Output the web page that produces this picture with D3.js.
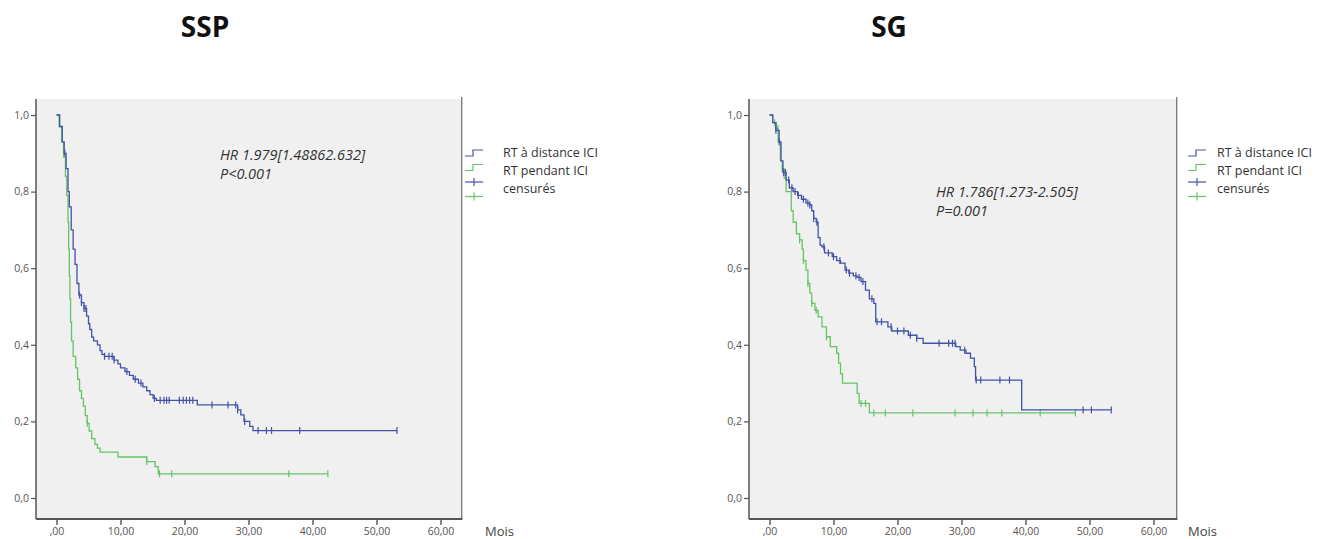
<!DOCTYPE html>
<html>
<head>
<meta charset="utf-8">
<script src="https://cdn.jsdelivr.net/npm/d3@7"></script>
<style>
  html, body { margin: 0; padding: 0; background: #fff; }
  svg { display: block; }
  text { font-family: "Open Sans", "DejaVu Sans", sans-serif; }
</style>
</head>
<body>
<svg id="chart" width="1327" height="539"></svg>
<script>
// ---------------- DATA ----------------
const panelTitles = ["SSP", "SG"];
const seriesNames = ["RT à distance ICI", "RT pendant ICI"];
const censoredLabel = "censurés";
const xAxisLabel = "Mois";
const xTickValues = [0, 10, 20, 30, 40, 50, 60];
const xTickLabels = [",00", "10,00", "20,00", "30,00", "40,00", "50,00", "60,00"];
const yTickValues = [0, 0.2, 0.4, 0.6, 0.8, 1.0];
const yTickLabels = ["0,0", "0,2", "0,4", "0,6", "0,8", "1,0"];
const annotSSP = ["HR 1.979[1.48862.632]", "P<0.001"];
const annotSG = ["HR 1.786[1.273-2.505]", "P=0.001"];

// SSP – RT à distance ICI (blue)
const sspBlueTime = [0, 0.5, 0.9, 1.2, 1.5, 1.8, 2.0, 2.3, 2.6, 2.9, 3.2, 3.5, 3.9, 4.3, 4.7, 5.0, 5.2, 5.5, 5.8, 6.4, 6.8, 7.1, 7.5, 9.0, 9.6, 10.0, 10.7, 11.4, 12.0, 12.8, 13.5, 14.1, 14.6, 15.1, 15.6, 22.0, 28.3, 28.8, 29.3, 30.2, 30.7];
const sspBlueSurv = [1.0, 0.97, 0.93, 0.90, 0.86, 0.80, 0.76, 0.70, 0.65, 0.61, 0.56, 0.53, 0.51, 0.495, 0.475, 0.455, 0.44, 0.42, 0.41, 0.40, 0.385, 0.375, 0.37, 0.36, 0.35, 0.34, 0.33, 0.32, 0.31, 0.30, 0.29, 0.28, 0.27, 0.26, 0.255, 0.243, 0.23, 0.217, 0.20, 0.187, 0.176];
const sspBlueCens = [1.3, 3.6, 3.9, 4.3, 4.6, 7.5, 8.2, 8.7, 9.0, 11.0, 12.3, 13.2, 15.3, 16.2, 16.8, 17.2, 17.6, 19.2, 19.8, 20.3, 20.8, 21.3, 24.3, 26.8, 28.0, 28.3, 29.4, 31.5, 32.8, 33.6, 38.0, 53.2];

// SSP – RT pendant ICI (green)
const sspGreenTime = [0, 0.4, 0.8, 1.1, 1.4, 1.6, 1.8, 1.9, 2.0, 2.1, 2.2, 2.35, 2.6, 3.0, 3.3, 3.6, 3.9, 4.2, 4.5, 4.8, 5.1, 5.5, 6.0, 6.4, 6.8, 9.6, 14.1, 15.4, 15.9];
const sspGreenSurv = [1.0, 0.97, 0.93, 0.89, 0.84, 0.79, 0.72, 0.65, 0.58, 0.52, 0.46, 0.41, 0.37, 0.34, 0.31, 0.28, 0.26, 0.24, 0.215, 0.195, 0.175, 0.155, 0.14, 0.13, 0.12, 0.107, 0.095, 0.082, 0.063];
const sspGreenCens = [4.8, 14.1, 16.1, 18.0, 36.3, 42.4];

// SG – RT à distance ICI (blue)
const sgBlueTime = [0, 0.5, 1.0, 1.5, 1.8, 2.1, 2.6, 3.1, 3.7, 4.4, 5.0, 5.7, 6.3, 6.6, 6.9, 7.3, 7.6, 7.9, 8.2, 8.6, 9.8, 10.5, 11.1, 11.8, 12.4, 13.1, 13.7, 14.3, 15.0, 15.6, 16.3, 16.6, 18.5, 19.1, 21.7, 23.0, 24.0, 29.1, 29.8, 30.7, 31.4, 32.0, 32.2, 39.4];
const sgBlueSurv = [1.0, 0.98, 0.96, 0.93, 0.88, 0.85, 0.83, 0.81, 0.80, 0.79, 0.78, 0.77, 0.765, 0.75, 0.73, 0.72, 0.68, 0.66, 0.656, 0.64, 0.63, 0.62, 0.613, 0.595, 0.587, 0.58, 0.576, 0.565, 0.543, 0.52, 0.508, 0.46, 0.447, 0.436, 0.425, 0.417, 0.404, 0.395, 0.386, 0.378, 0.365, 0.343, 0.308, 0.23];
const sgBlueCens = [1.0, 1.5, 2.2, 2.5, 3.0, 3.5, 4.0, 4.5, 5.3, 6.0, 6.3, 6.9, 7.4, 8.5, 9.2, 10.0, 11.0, 12.0, 12.5, 13.5, 14.0, 14.6, 16.0, 16.8, 17.5, 19.0, 20.0, 21.0, 22.0, 23.0, 26.5, 28.0, 28.6, 29.0, 30.5, 32.3, 33.0, 36.0, 37.5, 49.0, 50.3, 53.4];

// SG – RT pendant ICI (green)
const sgGreenTime = [0, 0.5, 1.0, 1.35, 1.7, 2.0, 2.3, 2.6, 3.4, 3.7, 4.2, 4.7, 5.1, 5.3, 5.7, 6.0, 6.3, 6.6, 7.1, 7.6, 8.2, 8.9, 9.5, 10.5, 10.8, 11.1, 11.4, 13.7, 14.0, 15.6];
const sgGreenSurv = [1.0, 0.98, 0.965, 0.93, 0.88, 0.86, 0.835, 0.80, 0.75, 0.72, 0.69, 0.674, 0.65, 0.62, 0.595, 0.56, 0.535, 0.508, 0.49, 0.473, 0.447, 0.421, 0.395, 0.378, 0.352, 0.325, 0.30, 0.273, 0.247, 0.222];
const sgGreenCens = [0.8, 1.3, 2.0, 4.7, 5.3, 6.0, 6.6, 7.3, 8.9, 14.3, 15.0, 16.3, 18.1, 22.4, 29.0, 31.8, 34.0, 36.3, 42.3, 47.8];

// ---------------- LAYOUT / STYLE ----------------
const BLUE = "#4352a8";
const GREEN = "#66c466";
const svg = d3.select("#chart");

const panels = [
  { title: panelTitles[0], titleX: 205, left: 36, right: 461.7, annot: annotSSP, annotX: 220, annotY: 160,
    legendX: 465, legendTextX: 503,
    series: [
      { time: sspBlueTime, surv: sspBlueSurv, cens: sspBlueCens, color: BLUE },
      { time: sspGreenTime, surv: sspGreenSurv, cens: sspGreenCens, color: GREEN }
    ], moisX: 485 },
  { title: panelTitles[1], titleX: 889, left: 749, right: 1176.7, annot: annotSG, annotX: 936, annotY: 197,
    legendX: 1188, legendTextX: 1217,
    series: [
      { time: sgBlueTime, surv: sgBlueSurv, cens: sgBlueCens, color: BLUE },
      { time: sgGreenTime, surv: sgGreenSurv, cens: sgGreenCens, color: GREEN }
    ], moisX: 1188 }
];

const plotTop = 99, plotBottom = 519;

function survAt(times, survs, t) {
  let s = survs[0];
  for (let i = 0; i < times.length; i++) { if (times[i] <= t) s = survs[i]; }
  return s;
}

panels.forEach(p => {
  const g = svg.append("g");
  const x = d3.scaleLinear().domain([0, 60]).range([p.left + 20.5, p.left + 404.5]);
  const y = d3.scaleLinear().domain([0, 1]).range([498, 115]);

  // title
  g.append("text").attr("x", p.titleX).attr("y", 37).attr("text-anchor", "middle")
    .attr("font-size", 28).attr("font-weight", 700).attr("fill", "#111").text(p.title);

  // plot background
  g.append("rect").attr("x", p.left).attr("y", plotTop).attr("width", p.right - p.left)
    .attr("height", plotBottom - plotTop).attr("fill", "#f0f0f0");

  // right frame line
  g.append("line").attr("x1", p.right).attr("x2", p.right).attr("y1", plotTop - 2).attr("y2", plotBottom)
    .attr("stroke", "#777").attr("stroke-width", 1.3);

  // y axis
  const yAxis = d3.axisLeft(y).tickValues(yTickValues).tickSize(5).tickPadding(2)
    .tickFormat((d, i) => yTickLabels[i]);
  const ya = g.append("g").attr("transform", `translate(${p.left},0)`).call(yAxis);
  ya.select(".domain").remove();
  ya.selectAll(".tick line").attr("stroke", "#555").attr("stroke-width", 1.2);
  ya.selectAll(".tick text").attr("font-size", 10.5).attr("fill", "#555")
    .attr("font-family", "'Open Sans', sans-serif");
  g.append("line").attr("x1", p.left).attr("x2", p.left).attr("y1", plotTop).attr("y2", plotBottom)
    .attr("stroke", "#555").attr("stroke-width", 1.5);

  // x axis
  const xAxis = d3.axisBottom(x).tickValues(xTickValues).tickSize(6).tickPadding(3)
    .tickFormat((d, i) => xTickLabels[i]);
  const xa = g.append("g").attr("transform", `translate(0,${plotBottom})`).call(xAxis);
  xa.select(".domain").remove();
  xa.selectAll(".tick line").attr("stroke", "#555").attr("stroke-width", 1.4);
  xa.selectAll(".tick text").attr("font-size", 10.5).attr("fill", "#555")
    .attr("font-family", "'Open Sans', sans-serif");
  g.append("line").attr("x1", p.left).attr("x2", p.right + 0.7).attr("y1", plotBottom).attr("y2", plotBottom)
    .attr("stroke", "#555").attr("stroke-width", 2);

  // x axis title
  g.append("text").attr("x", p.moisX).attr("y", 536).attr("font-size", 13).attr("fill", "#444").text(xAxisLabel);

  // curves (green first so blue sits on top)
  const line = d3.line().x(d => x(d[0])).y(d => y(d[1])).curve(d3.curveStepAfter);
  [...p.series].reverse().forEach(s => {
    const pts = s.time.map((t, i) => [t, s.surv[i]]);
    const tEnd = d3.max(s.cens.concat(s.time));
    pts.push([tEnd, s.surv[s.surv.length - 1]]);
    g.append("path").attr("d", line(pts)).attr("fill", "none")
      .attr("stroke", s.color).attr("stroke-width", 1.3);
    g.selectAll(null).data(s.cens).enter().append("line")
      .attr("x1", d => x(d)).attr("x2", d => x(d))
      .attr("y1", d => y(survAt(s.time, s.surv, d)) - 3.5)
      .attr("y2", d => y(survAt(s.time, s.surv, d)) + 3.5)
      .attr("stroke", s.color).attr("stroke-width", 1.2);
  });

  // annotation
  p.annot.forEach((t, i) => {
    g.append("text").attr("x", p.annotX).attr("y", p.annotY + i * 19)
      .attr("font-size", 14.5).attr("font-style", "italic").attr("fill", "#333").text(t);
  });

  // legend
  const lx = p.legendX, rowY = [153, 167.5, 182, 196.5];
  [BLUE, GREEN].forEach((c, i) => {
    const yy = rowY[i];
    g.append("path")
      .attr("d", `M${lx},${yy + 3}H${lx + 8}V${yy - 3}H${lx + 18}`)
      .attr("fill", "none").attr("stroke", c).attr("stroke-width", 1.2);
  });
  [BLUE, GREEN].forEach((c, i) => {
    const yy = rowY[i + 2];
    g.append("line").attr("x1", lx).attr("x2", lx + 18).attr("y1", yy).attr("y2", yy)
      .attr("stroke", c).attr("stroke-width", 1.2);
    g.append("line").attr("x1", lx + 9).attr("x2", lx + 9).attr("y1", yy - 4).attr("y2", yy + 4)
      .attr("stroke", c).attr("stroke-width", 1.2);
  });
  const legendTexts = [seriesNames[0], seriesNames[1], censoredLabel];
  const textY = [157, 175, 193];
  legendTexts.forEach((t, i) => {
    g.append("text").attr("x", p.legendTextX).attr("y", textY[i])
      .attr("font-size", 12.5).attr("fill", "#333").text(t);
  });
});
</script>
</body>
</html>
